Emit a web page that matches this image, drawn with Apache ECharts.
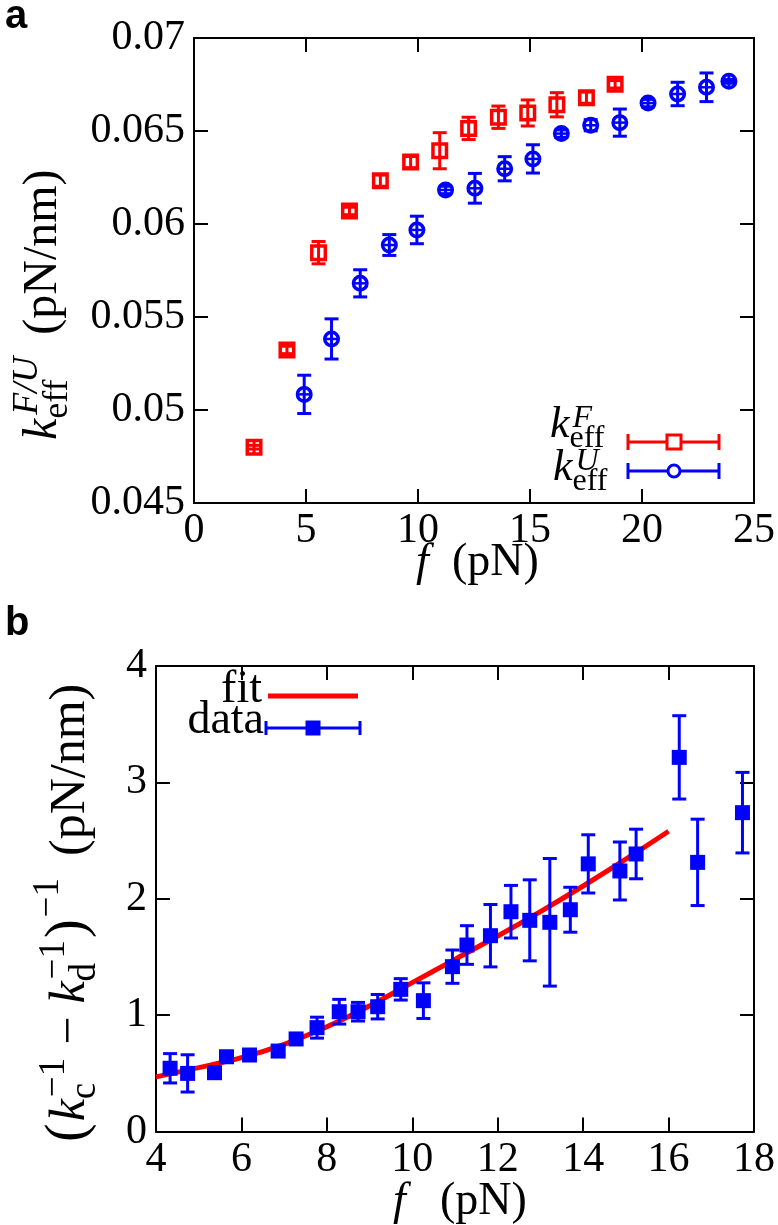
<!DOCTYPE html>
<html><head><meta charset="utf-8">
<script src="https://cdn.jsdelivr.net/npm/echarts@6/dist/echarts.min.js"></script>
<style>html,body{margin:0;padding:0;background:#fff}#c{width:778px;height:1225px}</style>
</head><body><div id="c"></div>
<script>
// ---------- Panel a data ----------
const fF    = [2.68, 4.15, 5.56, 6.94, 8.32, 9.67, 10.97, 12.26, 13.59, 14.90, 16.20, 17.52, 18.80];
const kF    = [0.0480, 0.05323, 0.05846, 0.0607, 0.06233, 0.06333, 0.06394, 0.06514, 0.06574, 0.06597, 0.06641, 0.06679, 0.06751];
const kFerr = [0.0001, 0.0002, 0.0006, 0.0002, 0.0003, 0.0003, 0.00097, 0.0006, 0.0006, 0.0007, 0.00065, 0.0003, 0.0002];
const fU    = [4.92, 6.14, 7.42, 8.72, 9.95, 11.23, 12.54, 13.87, 15.13, 16.40, 17.71, 19.01, 20.27, 21.59, 22.88, 23.88];
const kU    = [0.05084, 0.05382, 0.05681, 0.05887, 0.05968, 0.06183, 0.06192, 0.06297, 0.0635, 0.06486, 0.06531, 0.06545, 0.0665, 0.06699, 0.06735, 0.06767];
const kUerr = [0.00103, 0.00108, 0.00073, 0.00056, 0.00074, 0.0002, 0.0008, 0.00065, 0.00076, 0.0002, 0.0003, 0.00073, 0.0002, 0.00063, 0.00077, 0.0001];
const xTicksA = ['0', '5', '10', '15', '20', '25'];
const yTicksA = ['0.045', '0.05', '0.055', '0.06', '0.065', '0.07'];

// ---------- Panel b data ----------
const fB = [4.33, 4.74, 5.37, 5.65, 6.19, 6.86, 7.28, 7.77, 8.29, 8.73, 9.19, 9.73, 10.26, 10.94, 11.28, 11.83, 12.31, 12.75, 13.22, 13.70, 14.12, 14.86, 15.24, 16.25, 16.68, 17.73];
const vB = [0.544, 0.50, 0.506, 0.643, 0.658, 0.692, 0.796, 0.893, 1.03, 1.03, 1.073, 1.222, 1.125, 1.417, 1.603, 1.683, 1.889, 1.815, 1.798, 1.906, 2.30, 2.239, 2.385, 3.215, 2.313, 2.74];
const eB = [0.126, 0.16, 0.03, 0.03, 0.03, 0.03, 0.04, 0.09, 0.106, 0.08, 0.105, 0.092, 0.153, 0.143, 0.166, 0.268, 0.226, 0.348, 0.548, 0.193, 0.25, 0.249, 0.213, 0.358, 0.371, 0.346];
const fitF = [4, 5, 6, 7, 8, 9, 10, 11, 12, 13, 14, 15, 16];
const fitV = [0.47, 0.55, 0.635, 0.75, 0.90, 1.08, 1.28, 1.48, 1.68, 1.89, 2.11, 2.34, 2.58];
const xTicksB = ['4', '6', '8', '10', '12', '14', '16', '18'];
const yTicksB = ['0', '1', '2', '3', '4'];

const SERIF = 'Liberation Serif';
const SANS = 'Liberation Sans';
const RED = '#ff0000', BLUE = '#0000ff';

const mctx = document.createElement('canvas').getContext('2d');
function fontStr(size, it) { return (it ? 'italic ' : '') + size + 'px "' + SERIF + '"'; }
function measure(t, size, it) { mctx.font = fontStr(size, it); return mctx.measureText(t).width; }
function txt(x, base, t, size, opt) {
  opt = opt || {};
  return { type: 'text', x: x, y: base - 0.34 * size,
    style: { text: t, font: opt.font || fontStr(size, opt.it), fill: opt.fill || '#000',
      align: opt.align || 'left', textAlign: opt.align || 'left',
      verticalAlign: 'middle', textVerticalAlign: 'middle' } };
}
// pieces laid out along a baseline (local y = 0)
function line(pieces) {
  let x = 0, start = 0; const ch = [];
  pieces.forEach(p => {
    let sx;
    if (p.stack) sx = start + (p.gap || 0); else { sx = x + (p.gap || 0); start = sx; }
    const w = measure(p.t, p.size, p.it);
    ch.push(txt(sx, -(p.rise || 0), p.t, p.size, { it: p.it }));
    x = p.stack ? Math.max(x, sx + w) : sx + w;
  });
  return { children: ch, width: x };
}

const chart = echarts.init(document.getElementById('c'), null, { renderer: 'canvas' });

function makeErr(kind, color, size, capW, lw) {
  return function (params, api) {
    const x = api.value(0), y = api.value(1), e = api.value(2);
    const c = api.coord([x, y]), t = api.coord([x, y + e]), b = api.coord([x, y - e]);
    const ls = { stroke: color, lineWidth: 3 };
    const h = size / 2;
    const ch = [
      { type: 'line', shape: { x1: c[0], y1: Math.min(t[1], c[1] - h + 1), x2: c[0], y2: Math.max(b[1], c[1] + h - 1) }, style: ls },
      { type: 'line', shape: { x1: c[0] - capW / 2, y1: t[1], x2: c[0] + capW / 2, y2: t[1] }, style: ls },
      { type: 'line', shape: { x1: c[0] - capW / 2, y1: b[1], x2: c[0] + capW / 2, y2: b[1] }, style: ls }
    ];
    const o = lw / 2;
    if (kind === 'osq') {
      ch.push({ type: 'rect', shape: { x: c[0] - h + o, y: c[1] - h + o, width: size - lw, height: size - lw }, style: { fill: 'none', stroke: color, lineWidth: lw } });
    } else if (kind === 'oci') {
      ch.push({ type: 'line', shape: { x1: c[0] - h + 1, y1: c[1], x2: c[0] + h - 1, y2: c[1] }, style: { stroke: color, lineWidth: 2.5 } });
      ch.push({ type: 'circle', shape: { cx: c[0], cy: c[1], r: h - o }, style: { fill: 'none', stroke: color, lineWidth: lw } });
    } else {
      ch.push({ type: 'rect', shape: { x: c[0] - h, y: c[1] - h, width: size, height: size }, style: { fill: color } });
    }
    return { type: 'group', children: ch };
  };
}

const axLine = { show: true, onZero: false, lineStyle: { color: '#000', width: 2 } };
const axTick = { show: true, inside: true, length: 14, lineStyle: { color: '#000', width: 2 } };
const richT = { t: { fontFamily: SERIF, fontSize: 42, color: '#000' } };

function xAx(grid, min, max, itv, pos, labels) {
  return { type: 'value', gridIndex: grid, min: min, max: max, interval: itv, position: pos,
    axisLine: axLine, axisTick: axTick, splitLine: { show: false },
    axisLabel: labels ? { margin: 7, showMinLabel: true, showMaxLabel: true, fontFamily: SERIF, fontSize: 42, color: '#000',
      rich: richT, formatter: v => '{t|' + labels[Math.round((v - min) / itv)] + '}' } : { show: false } };
}
function yAx(grid, min, max, itv, pos, labels) {
  return { type: 'value', gridIndex: grid, min: min, max: max, interval: itv, position: pos,
    axisLine: axLine, axisTick: axTick, splitLine: { show: false },
    axisLabel: labels ? { margin: 9, showMinLabel: true, showMaxLabel: true, fontFamily: SERIF, fontSize: 42, color: '#000',
      rich: richT, formatter: v => '{t|' + labels[Math.round((v - min) / itv)] + '}' } : { show: false } };
}

// ---------- texts ----------
const graphics = [];
// panel letters
graphics.push(txt(5, 31, 'a', 40, { font: 'bold 40px "' + SANS + '"' }));
graphics.push(txt(5, 638, 'b', 40, { font: 'bold 40px "' + SANS + '"' }));

// x axis names
graphics.push(txt(416, 579, 'f', 46, { it: true }));
graphics.push(txt(452, 579, '(pN)', 46));
graphics.push(txt(393, 1218, 'f', 46, { it: true }));
graphics.push(txt(440, 1218, '(pN)', 46));

// y axis name a
(function () {
  const L = line([
    { t: 'k', size: 48, it: true },
    { t: 'eff', size: 36, rise: -10 },
    { t: 'F/U', size: 36, it: true, rise: 20, stack: true, gap: 4 },
    { t: '(pN/nm)', size: 48, gap: 22 }
  ]);
  graphics.push({ type: 'group', x: 60, y: 440, rotation: Math.PI / 2, children: L.children });
})();
// y axis name b
(function () {
  const L = line([
    { t: '(', size: 56 },
    { t: 'k', size: 50, it: true, gap: 2 },
    { t: 'c', size: 37, rise: -10 },
    { t: '−1', size: 37, rise: 21, stack: true, gap: 2 },
    { t: '−', size: 50, gap: 13 },
    { t: 'k', size: 50, it: true, gap: 13 },
    { t: 'd', size: 37, rise: -10 },
    { t: '−1', size: 37, rise: 21, stack: true, gap: 2 },
    { t: ')', size: 56, gap: 2 },
    { t: '−1', size: 37, rise: 27, gap: 2 },
    { t: '(pN/nm)', size: 50, gap: 22 }
  ]);
  graphics.push({ type: 'group', x: 88, y: 1142, rotation: Math.PI / 2, children: L.children });
})();

// legend a
(function () {
  const rows = [{ sup: 'F', col: RED, ly: 442, kx: 550, base: 440, mk: 'sq' },
                { sup: 'U', col: BLUE, ly: 471, kx: 553, base: 483, mk: 'ci' }];
  rows.forEach(r => {
    const L = line([
      { t: 'k', size: 44, it: true },
      { t: 'eff', size: 32, rise: -9 },
      { t: r.sup, size: 32, it: true, rise: 11, stack: true, gap: 3 }
    ]);
    graphics.push({ type: 'group', x: r.kx, y: r.base, children: L.children });
    const s = { stroke: r.col, lineWidth: 3 };
    graphics.push({ type: 'line', shape: { x1: 628, y1: r.ly, x2: 719, y2: r.ly }, style: s });
    graphics.push({ type: 'line', shape: { x1: 628, y1: r.ly - 8, x2: 628, y2: r.ly + 8 }, style: s });
    graphics.push({ type: 'line', shape: { x1: 719, y1: r.ly - 8, x2: 719, y2: r.ly + 8 }, style: s });
    if (r.mk === 'sq') graphics.push({ type: 'rect', shape: { x: 667, y: r.ly - 7, width: 14, height: 14 }, style: { fill: '#fff', stroke: r.col, lineWidth: 3 } });
    else graphics.push({ type: 'circle', shape: { cx: 674, cy: r.ly, r: 6 }, style: { fill: '#fff', stroke: r.col, lineWidth: 3 } });
  });
})();
// legend b
graphics.push(txt(262, 706, 'fit', 46, { align: 'right' }));
graphics.push(txt(264, 737, 'data', 46, { align: 'right' }));
graphics.push({ type: 'line', shape: { x1: 268, y1: 696, x2: 358, y2: 696 }, style: { stroke: RED, lineWidth: 5 } });
graphics.push({ type: 'line', shape: { x1: 266, y1: 728, x2: 360, y2: 728 }, style: { stroke: BLUE, lineWidth: 3 } });
graphics.push({ type: 'line', shape: { x1: 266, y1: 721, x2: 266, y2: 735 }, style: { stroke: BLUE, lineWidth: 3 } });
graphics.push({ type: 'line', shape: { x1: 360, y1: 721, x2: 360, y2: 735 }, style: { stroke: BLUE, lineWidth: 3 } });
graphics.push({ type: 'rect', shape: { x: 305.5, y: 720.5, width: 15, height: 15 }, style: { fill: BLUE } });

const option = {
  animation: false,
  backgroundColor: '#fff',
  textStyle: { fontFamily: SERIF },
  grid: [
    { left: 194, top: 38, width: 563, height: 465 },
    { left: 156, top: 666, width: 601, height: 465.6 }
  ],
  xAxis: [
    xAx(0, 0, 25, 5, 'bottom', xTicksA),
    xAx(0, 0, 25, 5, 'top', null),
    xAx(1, 4, 18, 2, 'bottom', xTicksB),
    xAx(1, 4, 18, 2, 'top', null)
  ],
  yAxis: [
    yAx(0, 0.045, 0.07, 0.005, 'left', yTicksA),
    yAx(0, 0.045, 0.07, 0.005, 'right', null),
    yAx(1, 0, 4, 1, 'left', yTicksB),
    yAx(1, 0, 4, 1, 'right', null)
  ],
  series: [
    { type: 'custom', xAxisIndex: 0, yAxisIndex: 0, renderItem: makeErr('osq', RED, 17, 14, 3.5),
      encode: { x: 0, y: 1 }, data: fF.map((f, i) => [f, kF[i], kFerr[i]]), z: 3 },
    { type: 'custom', xAxisIndex: 0, yAxisIndex: 0, renderItem: makeErr('oci', BLUE, 17, 14, 3.5),
      encode: { x: 0, y: 1 }, data: fU.map((f, i) => [f, kU[i], kUerr[i]]), z: 3 },
    { type: 'line', xAxisIndex: 2, yAxisIndex: 2, data: fitF.map((f, i) => [f, fitV[i]]),
      smooth: 0.4, showSymbol: false, lineStyle: { color: RED, width: 5 }, z: 2 },
    { type: 'custom', xAxisIndex: 2, yAxisIndex: 2, renderItem: makeErr('fsq', BLUE, 15, 14, 0),
      encode: { x: 0, y: 1 }, data: fB.map((f, i) => [f, vB[i], eB[i]]), z: 3 }
  ],
  graphic: { elements: graphics }
};
chart.setOption(option);
</script>
</body></html>
